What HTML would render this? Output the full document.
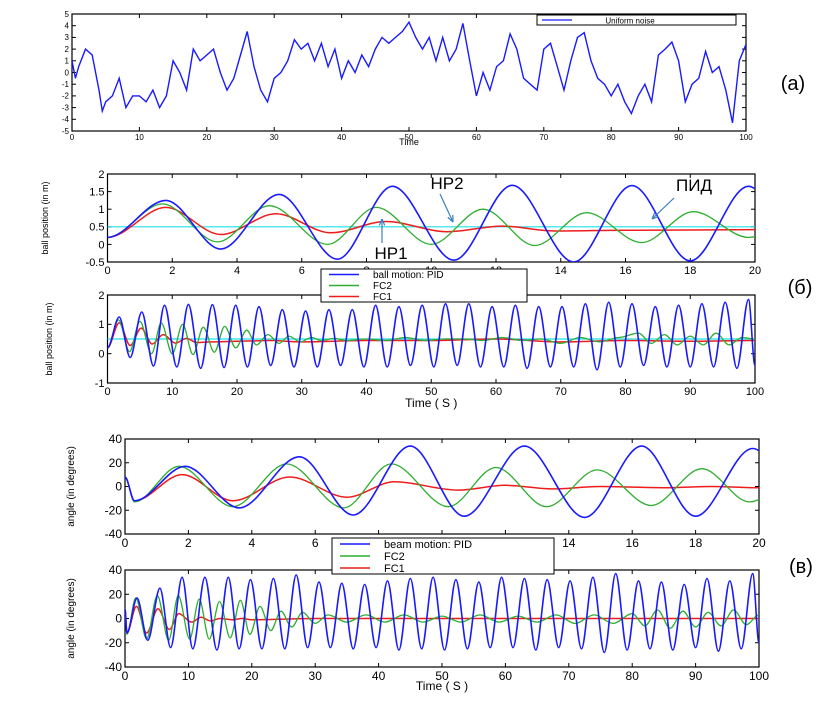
<!DOCTYPE html>
<html><head><meta charset="utf-8"><style>
body{margin:0;background:#fff;}
svg{display:block;font-family:"Liberation Sans",sans-serif;}
</style></head><body>
<svg id="fig" width="838" height="710" viewBox="0 0 838 710"></svg>
<script>
// ---------- data ----------
const noiseV=[1,-0.5,0.5,2,1.5,-1.5,-3.3,-2.5,-2,-0.5,-3,-2,-2,-2.5,-1.5,-3,-2,1,0,-1.5,2,1,1.5,2,0,-1.5,-0.5,1.5,3.5,0.5,-1.5,-2.5,-0.5,0,1,2.8,2,2.5,1,2.5,0.5,2,-0.5,1,0,1.5,0.5,2,3,2.5,3,3.5,4.3,3,2,3,1,3,1,2,4.2,1,-2,0,-1.5,0.5,1,3.3,2,-0.5,-1,-1.5,2,2.5,0.5,-1.5,1,3,3.4,1,-0.5,-1,-2,-1,-2.5,-3.5,-2,-1,-2.5,1.5,2,2.6,1,-2.5,-1,-0.5,1.8,0,0.5,-1.5,-4.3,1,2.4];
const noiseT=[0,0.5,1,2,3,4,4.5,5,6,7,8,9,10,11,12,13,14,15,16,17,18,19,20,21,22,23,24,25,26,27,28,29,30,31,32,33,34,35,36,37,38,39,40,41,42,43,44,45,46,47,48,49,50,51,52,53,54,55,56,57,58,59,60,61,62,63,64,65,66,67,68,69,70,71,72,73,74,75,76,77,78,79,80,81,82,83,84,85,86,87,88,89,90,91,92,93,94,95,96,97,98,99,100];
const tailT=[21.6,23.4,25.2,27,28.8,30.6,32.4,34.2,36,37.8,39.6,41.4,43.2,45,46.8,48.6,50.4,52.2,54,55.8,57.6,59.4,61.2,63,64.8,66.6,68.4,70.2,72,73.8,75.6,77.4,79.2,81,82.8,84.6,86.4,88.2,90,91.8,93.6,95.4,97.2,99];
const pidBallT=[0,1.8,3.5,5.3,7.1,8.8,10.7,12.5,14.4,16.2,18.0,19.8].concat(tailT,[100]);
const pidBallV=[0.2,1.25,-0.13,1.42,-0.42,1.65,-0.45,1.68,-0.5,1.67,-0.47,1.65,-0.45,1.6,-0.4,1.5,-0.45,1.45,-0.45,1.5,-0.4,1.5,-0.45,1.65,-0.45,1.6,-0.4,1.65,-0.45,1.7,-0.4,1.7,-0.45,1.6,-0.45,1.65,-0.5,1.6,-0.45,1.6,-0.45,1.7,-0.55,1.75,-0.45,1.7,-0.4,1.6,-0.45,1.65,-0.45,1.7,-0.45,1.75,-0.5,1.85,-0.4];
const fc2BallT=[0,1.7,3.4,5.0,6.8,8.3,10.0,11.6,13.2,14.8,16.5,18.1,19.8,21.5,23,24.8,26.5,28,29.8,31.5,33,35,37,40,43,46,49,52,55,58,61,64,67,70,73,76,79,82,84,86,88,90,92,94,96,98,100];
const fc2BallV=[0.2,1.15,0.07,1.1,0.0,1.05,0.0,1.0,-0.03,0.9,0.05,0.93,0.2,0.8,0.3,0.65,0.35,0.6,0.4,0.55,0.45,0.52,0.45,0.5,0.45,0.55,0.45,0.5,0.5,0.45,0.55,0.45,0.5,0.35,0.55,0.4,0.55,0.7,0.35,0.65,0.3,0.6,0.3,0.7,0.3,0.55,0.5];
const fc1BallT=[0,1.8,3.5,5.2,6.9,8.6,10.5,12.2,13.8,16,20,25,30,40,50,60,70,80,90,100];
const fc1BallV=[0.2,1.05,0.28,0.87,0.33,0.65,0.36,0.52,0.38,0.4,0.42,0.45,0.4,0.45,0.45,0.5,0.4,0.45,0.42,0.45];
const refBall=0.5;
const pidAngT=[0,0.3,1.9,3.6,5.5,7.2,9.0,10.7,12.6,14.5,16.3,18.0,19.8].concat(tailT,[100]);
const pidAngV=[8,-12,17,-18,25,-24,34,-25,34,-26,34,-25,32,-25,33,-25,36,-24,30,-24,29,-25,28,-24,31,-26,33,-25,34,-26,32,-25,30,-24,34,-24,33,-26,32,-24,31,-25,34,-28,37,-26,31,-25,30,-26,28,-24,33,-27,31,-25,37,-20];
const fc2AngT=[0,0.3,1.7,3.4,5.1,6.9,8.4,10.2,11.7,13.3,14.9,16.6,18.2,19.7,21.3,23,24.6,26.3,28,30,32,35,38,41,44,47,50,53,56,59,62,65,68,71,74,77,80,82,84,86,88,90,92,94,96,98,100];
const fc2AngV=[8,-13,17,-17,19,-18,19,-17,16,-17,14,-16,15,-13,10,-10,6,-7,5,-4,3,-3,3,-3,3,-3,2,-3,3,-3,2,-3,3,-4,3,-4,4,-6,7,-8,6,-7,5,-6,7,-5,3];
const fc1AngT=[0,0.3,1.8,3.4,5.2,7.0,8.5,10.5,12.0,13.5,15,17,18.5,20,30,50,70,100];
const fc1AngV=[8,-12,10,-12,8,-9,4,-3,1,-2,0,-1,0,-1,0,0,0,0];
const noiseYTicks=[5,4,3,2,1,0,-1,-2,-3,-4,-5];
const xTicks100=[0,10,20,30,40,50,60,70,80,90,100];
const xTicks20=[0,2,4,6,8,10,12,14,16,18,20];
const ballTopY=[2,1.5,1,0.5,0,-0.5];
const ballBotY=[2,1,0,-1];
const angY=[40,20,0,-20,-40];

// ---------- drawing ----------
const NS='http://www.w3.org/2000/svg';
const svg=document.getElementById('fig');
function el(tag,attrs,parent){const e=document.createElementNS(NS,tag);for(const k in attrs)e.setAttribute(k,attrs[k]);(parent||svg).appendChild(e);return e;}
function txt(s,x,y,size,anchor,parent,name){const t=el('text',{x:x,y:y,'font-size':size,'text-anchor':anchor||'middle',fill:'#000'},parent);t.textContent=s;


return t;}
let clipId=0;
function panel(name,f,xd,yd,xt,yt,fs,ylab,xlab){
  const g=el('g',{});
  
  
  const sx=v=>f.x0+(v-xd[0])/(xd[1]-xd[0])*(f.x1-f.x0);
  const sy=v=>f.y1-(v-yd[0])/(yd[1]-yd[0])*(f.y1-f.y0);
  const id='c'+(clipId++);
  const cp=el('clipPath',{id:id},g);el('rect',{x:f.x0,y:f.y0,width:f.x1-f.x0,height:f.y1-f.y0},cp);
  const frame=el('rect',{x:f.x0,y:f.y0,width:f.x1-f.x0,height:f.y1-f.y0,fill:'#fff',stroke:'#000','stroke-width':1.2},g);
  
  
  xt.forEach(v=>{const x=sx(v);el('line',{x1:x,x2:x,y1:f.y1,y2:f.y1-4,stroke:'#000'},g);el('line',{x1:x,x2:x,y1:f.y0,y2:f.y0+4,stroke:'#000'},g);txt(String(v),x,f.y1+fs+1,fs,'middle',g,'x-tick-label');});
  yt.forEach(v=>{const y=sy(v);el('line',{x1:f.x0,x2:f.x0+4,y1:y,y2:y,stroke:'#000'},g);el('line',{x1:f.x1,x2:f.x1-4,y1:y,y2:y,stroke:'#000'},g);txt(String(v),f.x0-3,y+fs*0.35,fs,'end',g,'y-tick-label');});
  if(ylab){const t=txt(ylab.s,0,0,ylab.size,'middle',g,'y-axis-title');t.setAttribute('transform','translate('+ylab.x+','+((f.y0+f.y1)/2)+') rotate(-90)');}
  if(xlab){txt(xlab.s,(f.x0+f.x1)/2,xlab.y,xlab.size,'middle',g,'x-axis-title');}
  const pg=el('g',{'clip-path':'url(#'+id+')'},g);
  return {g:pg,sx:sx,sy:sy};
}
function smooth(p,T,V,color,w,name){
  let d='M'+p.sx(T[0]).toFixed(1)+' '+p.sy(V[0]).toFixed(1);
  for(let i=1;i<T.length&&i<V.length;i++){const x0=p.sx(T[i-1]),y0=p.sy(V[i-1]),x1=p.sx(T[i]),y1=p.sy(V[i]),dx=(x1-x0)/3;
    d+=' C'+(x0+dx).toFixed(1)+' '+y0.toFixed(1)+' '+(x1-dx).toFixed(1)+' '+y1.toFixed(1)+' '+x1.toFixed(1)+' '+y1.toFixed(1);}
  const e=el('path',{d:d,fill:'none',stroke:color,'stroke-width':w,'stroke-linejoin':'round'},p.g);
  
  
}
function poly(p,T,V,color,w,name){
  const pts=T.map((t,i)=>p.sx(t).toFixed(1)+','+p.sy(V[i]).toFixed(1)).join(' ');
  const e=el('polyline',{points:pts,fill:'none',stroke:color,'stroke-width':w},p.g);
  
  
}
function hline(p,v,xd,color,name){const e=el('line',{x1:p.sx(xd[0]),x2:p.sx(xd[1]),y1:p.sy(v),y2:p.sy(v),stroke:color,'stroke-width':1.2},p.g);
  
  }
const BLUE='#1a1aff',GREEN='#2fae2f',RED='#ee1c1c',CYAN='#1fe0e8';

// (a) noise
const pa=panel('noise-panel',{x0:72,x1:746,y0:14,y1:131},[0,100],[-5,5],xTicks100,noiseYTicks,8,null,{s:'Time',y:145,size:9});
poly(pa,noiseT,noiseV,BLUE,1.4,'noise-line');
const lg0=el('g',{});
el('rect',{x:537,y:15,width:199,height:10,fill:'#fff',stroke:'#000','stroke-width':1},lg0);
el('line',{x1:542,x2:572,y1:20,y2:20,stroke:BLUE,'stroke-width':1.2},lg0);
txt('Uniform noise',630,23.5,8,'middle',lg0,'legend-label');

// (б) ball top
const pb1=panel('ball-zoom-panel',{x0:107.5,x1:755,y0:174,y1:262},[0,20],[-0.5,2],xTicks20,ballTopY,11,{s:'ball position (in m)',x:48,size:9},null);
hline(pb1,refBall,[0,20],CYAN,'reference-line');
smooth(pb1,fc1BallT,fc1BallV,RED,1.5,'fc1-line');
smooth(pb1,fc2BallT,fc2BallV,GREEN,1.3,'fc2-line');
smooth(pb1,pidBallT,pidBallV,BLUE,1.6,'pid-line');
// (б) ball bottom
const pb2=panel('ball-full-panel',{x0:107.5,x1:755,y0:295,y1:383},[0,100],[-1,2],xTicks100,ballBotY,11,{s:'ball position (in m)',x:52,size:9},{s:'Time ( S )',y:407,size:12});
hline(pb2,refBall,[0,100],CYAN,'reference-line');
smooth(pb2,fc1BallT,fc1BallV,RED,1.5,'fc1-line');
smooth(pb2,fc2BallT,fc2BallV,GREEN,1.3,'fc2-line');
smooth(pb2,pidBallT,pidBallV,BLUE,1.6,'pid-line');

// (в) angle top
const pc1=panel('angle-zoom-panel',{x0:125,x1:759,y0:439,y1:534},[0,20],[-40,40],xTicks20,angY,12,{s:'angle (in degrees)',x:74,size:10},null);
smooth(pc1,fc1AngT,fc1AngV,RED,1.5,'fc1-line');
smooth(pc1,fc2AngT,fc2AngV,GREEN,1.3,'fc2-line');
smooth(pc1,pidAngT,pidAngV,BLUE,1.6,'pid-line');
// (в) angle bottom
const pc2=panel('angle-full-panel',{x0:125,x1:759,y0:570,y1:667},[0,100],[-40,40],xTicks100,angY,12,{s:'angle (in degrees)',x:74,size:10},{s:'Time ( S )',y:690,size:12});
smooth(pc2,fc1AngT,fc1AngV,RED,1.5,'fc1-line');
smooth(pc2,fc2AngT,fc2AngV,GREEN,1.3,'fc2-line');
smooth(pc2,pidAngT,pidAngV,BLUE,1.6,'pid-line');

// legends
function legend(name,x,y,w,h,labels,size){
  const g=el('g',{});
  el('rect',{x:x,y:y,width:w,height:h,fill:'#fff',stroke:'#000','stroke-width':1},g);
  const cols=[BLUE,GREEN,RED];
  labels.forEach((s,i)=>{const yy=y+h*(i+0.5)/3;el('line',{x1:x+8,x2:x+38,y1:yy,y2:yy,stroke:cols[i],'stroke-width':1.5},g);txt(s,x+52,yy+size*0.36,size,'start',g,'legend-label');});
}
legend('ball-legend',321,269,206,33,['ball motion: PID','FC2','FC1'],10);
legend('angle-legend',332,538,222,36,['beam motion: PID','FC2','FC1'],11);

// annotations
function arrow(x1,y1,x2,y2,name){const g=el('g',{});
  el('line',{x1:x1,y1:y1,x2:x2,y2:y2,stroke:'#3a7fc0','stroke-width':1.2},g);
  const a=Math.atan2(y2-y1,x2-x1),L=7;
  el('path',{d:'M'+x2+' '+y2+' L'+(x2-L*Math.cos(a-0.4))+' '+(y2-L*Math.sin(a-0.4))+' M'+x2+' '+y2+' L'+(x2-L*Math.cos(a+0.4))+' '+(y2-L*Math.sin(a+0.4)),stroke:'#3a7fc0','stroke-width':1.2,fill:'none'},g);}
txt('HP2',447,189,17,'middle',null,'hp2-annotation');
arrow(440,194,453,222,'hp2-arrow');
txt('HP1',391,259,17,'middle',null,'hp1-annotation');
arrow(382,243,382,219,'hp1-arrow');
txt('ПИД',694,191,17,'middle',null,'pid-annotation');
arrow(674,198,652,219,'pid-arrow');
txt('(a)',793,90,20,'middle',null,'panel-label-a');
txt('(б)',800,294,20,'middle',null,'panel-label-b');
txt('(в)',801,573,20,'middle',null,'panel-label-v');
</script>
</body></html>
